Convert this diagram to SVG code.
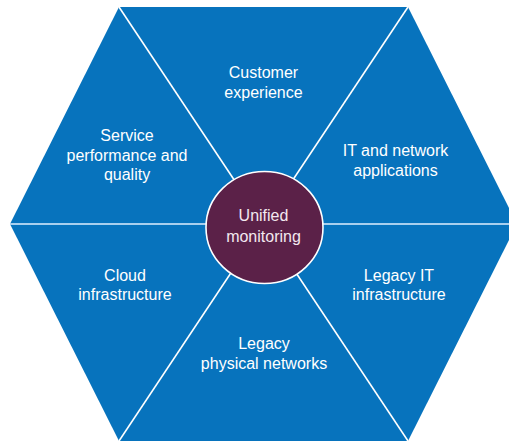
<svg xmlns="http://www.w3.org/2000/svg" width="509" height="441" viewBox="0 0 509 441">
<style>
.seg{fill:#0773bd;stroke:none}
.lbl{font-family:"Liberation Sans",Arial,sans-serif;font-size:16px;fill:#ffffff;text-anchor:middle}
.div{stroke:#ffffff;stroke-width:1.6;fill:none}
.hdiv{stroke:#a8cfee;stroke-width:1.8;fill:none}
.hub{fill:#5b2148;stroke:#ffffff;stroke-width:1.6}
.hublbl{font-family:"Liberation Sans",Arial,sans-serif;font-size:16px;fill:#f3e8ef;text-anchor:middle}
</style>
<rect width="509" height="441" fill="#ffffff"/>
<g id="customer-experience">
<polygon class="seg" points="119,7 408,7 263.5,224"/>
<text class="lbl" x="263.5" y="78">Customer</text>
<text class="lbl" x="263.5" y="97.5">experience</text>
</g>
<g id="it-network-applications">
<polygon class="seg" points="408,7 517,224 263.5,224"/>
<text class="lbl" x="395.5" y="156">IT and network</text>
<text class="lbl" x="395.5" y="175.5">applications</text>
</g>
<g id="legacy-it-infrastructure">
<polygon class="seg" points="517,224 408,441 263.5,224"/>
<text class="lbl" x="399" y="281">Legacy IT</text>
<text class="lbl" x="399" y="300">infrastructure</text>
</g>
<g id="legacy-physical-networks">
<polygon class="seg" points="408,441 119,441 263.5,224"/>
<text class="lbl" x="264" y="349">Legacy</text>
<text class="lbl" x="264" y="368.5">physical networks</text>
</g>
<g id="cloud-infrastructure">
<polygon class="seg" points="119,441 10,224 263.5,224"/>
<text class="lbl" x="125" y="281">Cloud</text>
<text class="lbl" x="125" y="300">infrastructure</text>
</g>
<g id="service-performance-quality">
<polygon class="seg" points="10,224 119,7 263.5,224"/>
<text class="lbl" x="127" y="141">Service</text>
<text class="lbl" x="127" y="160.5">performance and</text>
<text class="lbl" x="127" y="180">quality</text>
</g>
<g id="dividers">
<line class="div" x1="119" y1="7" x2="408" y2="441"/>
<line class="div" x1="408" y1="7" x2="119" y2="441"/>
<line class="hdiv" x1="10" y1="224" x2="517" y2="224"/>
</g>
<g id="unified-monitoring">
<ellipse class="hub" cx="264.5" cy="227.5" rx="58.5" ry="56"/>
<text class="hublbl" x="263.5" y="221">Unified</text>
<text class="hublbl" x="263.5" y="241.5">monitoring</text>
</g>
</svg>
